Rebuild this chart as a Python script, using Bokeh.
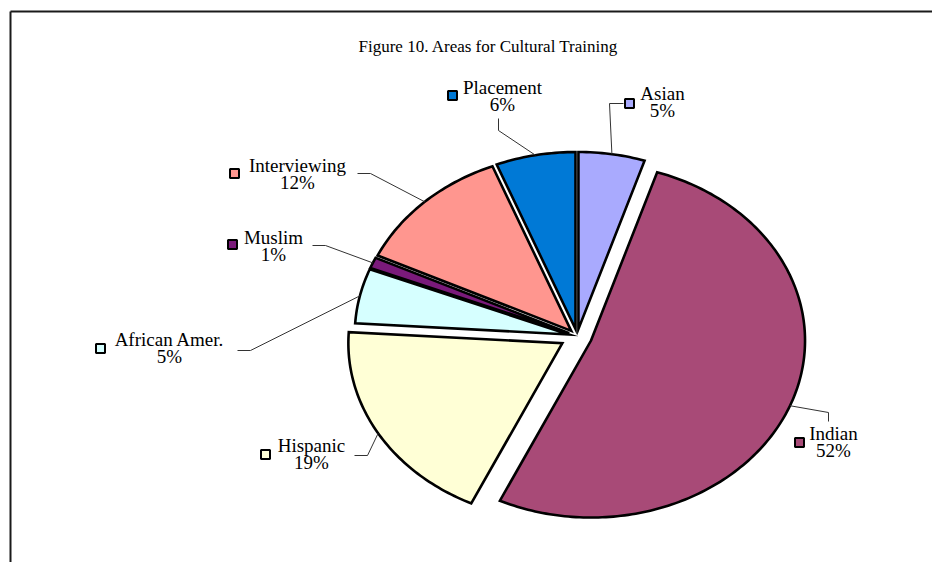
import numpy as np
from bokeh.plotting import figure
from bokeh.models import Range1d, ColumnDataSource
from bokeh.core.properties import value
from bokeh.embed import file_html
from bokeh.resources import INLINE

# ---------------- data ----------------
title_text = "Figure 10. Areas for Cultural Training"
categories = ["Asian", "Indian", "Hispanic", "African Amer.", "Muslim", "Interviewing", "Placement"]
percents = [5, 52, 19, 5, 1, 12, 6]

# ---------------- style / layout ----------------
colors = ["#A9AAFE", "#A84A77", "#FFFFD6", "#D6FFFF", "#7A1A7A", "#FF968F", "#0079D6"]
explode = [0.04, 0.07, 0.08, 0.04, 0.04, 0.04, 0.04]
CX, CY, RX, RY = 576.6, 335.5, 214.0, 177.0          # page pixel geometry of the pie
FONT = "Liberation Serif"

# label layout (page pixels): legend-key square, name centre, elbow, leader end
key_xy = [(629, 103), (799, 442), (265, 454), (100, 348), (232, 244), (234, 173), (452, 95)]
name_xy = [(662, 93), (833, 433), (311, 445), (169, 339), (273, 237), (297, 165), (502, 87)]
pct_dy = 17
elbow_xy = [(609, 103), (828, 412), (367, 455), (250, 350), (325, 245), (370, 173), (498, 130)]
end_xy = [(623, 103), (828, 421), (354, 455), (237, 350), (312, 245), (357, 173), (498, 118)]

W, H = 932, 562
p = figure(width=W, height=H, output_backend="svg", toolbar_location=None,
           x_range=Range1d(0, W), y_range=Range1d(H, 0),
           min_border=0, outline_line_color=None, background_fill_color="white",
           border_fill_color="white")
p.axis.visible = False
p.grid.visible = False

# frame (top and left edges visible in the reference crop)
p.segment(x0=[10, 10], y0=[11, 11], x1=[W, 10], y1=[11, H],
          line_color="#1a1a1a", line_width=2)

# ---------------- pie slices ----------------
fr = np.array(percents, dtype=float) / sum(percents)
ends = np.cumsum(fr) * 2 * np.pi
starts = ends - fr * 2 * np.pi
xs, ys, leader_x, leader_y = [], [], [], []
for i in range(len(percents)):
    a0, a1 = starts[i], ends[i]
    mid = 0.5 * (a0 + a1)
    ox = CX + explode[i] * np.sin(mid) * RX
    oy = CY - explode[i] * np.cos(mid) * RY
    n = max(3, int(np.degrees(a1 - a0)))
    t = np.linspace(a0, a1, n)
    px = np.concatenate([[ox], ox + np.sin(t) * RX])
    py = np.concatenate([[oy], oy - np.cos(t) * RY])
    xs.append(list(px))
    ys.append(list(py))
    sx, sy = ox + np.sin(mid) * RX, oy - np.cos(mid) * RY
    leader_x.append([sx, elbow_xy[i][0], end_xy[i][0]])
    leader_y.append([sy, elbow_xy[i][1], end_xy[i][1]])

p.patches(xs=xs, ys=ys, fill_color=colors, line_color="black", line_width=2.6,
          line_join="miter")

# leader lines
p.multi_line(xs=leader_x, ys=leader_y, line_color="#333333", line_width=1)

# legend-key squares
p.scatter(x=[k[0] for k in key_xy], y=[k[1] for k in key_xy], marker="square",
          size=9, fill_color=colors, line_color="black", line_width=2)

# labels
lab = ColumnDataSource(dict(
    x=[n[0] for n in name_xy], y=[n[1] for n in name_xy],
    y2=[n[1] + pct_dy for n in name_xy],
    name=categories, pct=[f"{v}%" for v in percents]))
p.text(x="x", y="y", text="name", source=lab, text_font=value(FONT),
       text_font_size="19px", text_align="center", text_baseline="middle",
       text_color="black")
p.text(x="x", y="y2", text="pct", source=lab, text_font=value(FONT),
       text_font_size="19px", text_align="center", text_baseline="middle",
       text_color="black")

# title
p.text(x=[488], y=[46], text=[title_text], text_font=value(FONT),
       text_font_size="17px", text_align="center", text_baseline="middle",
       text_color="black")

open("out.html", "w").write(file_html(p, INLINE))
